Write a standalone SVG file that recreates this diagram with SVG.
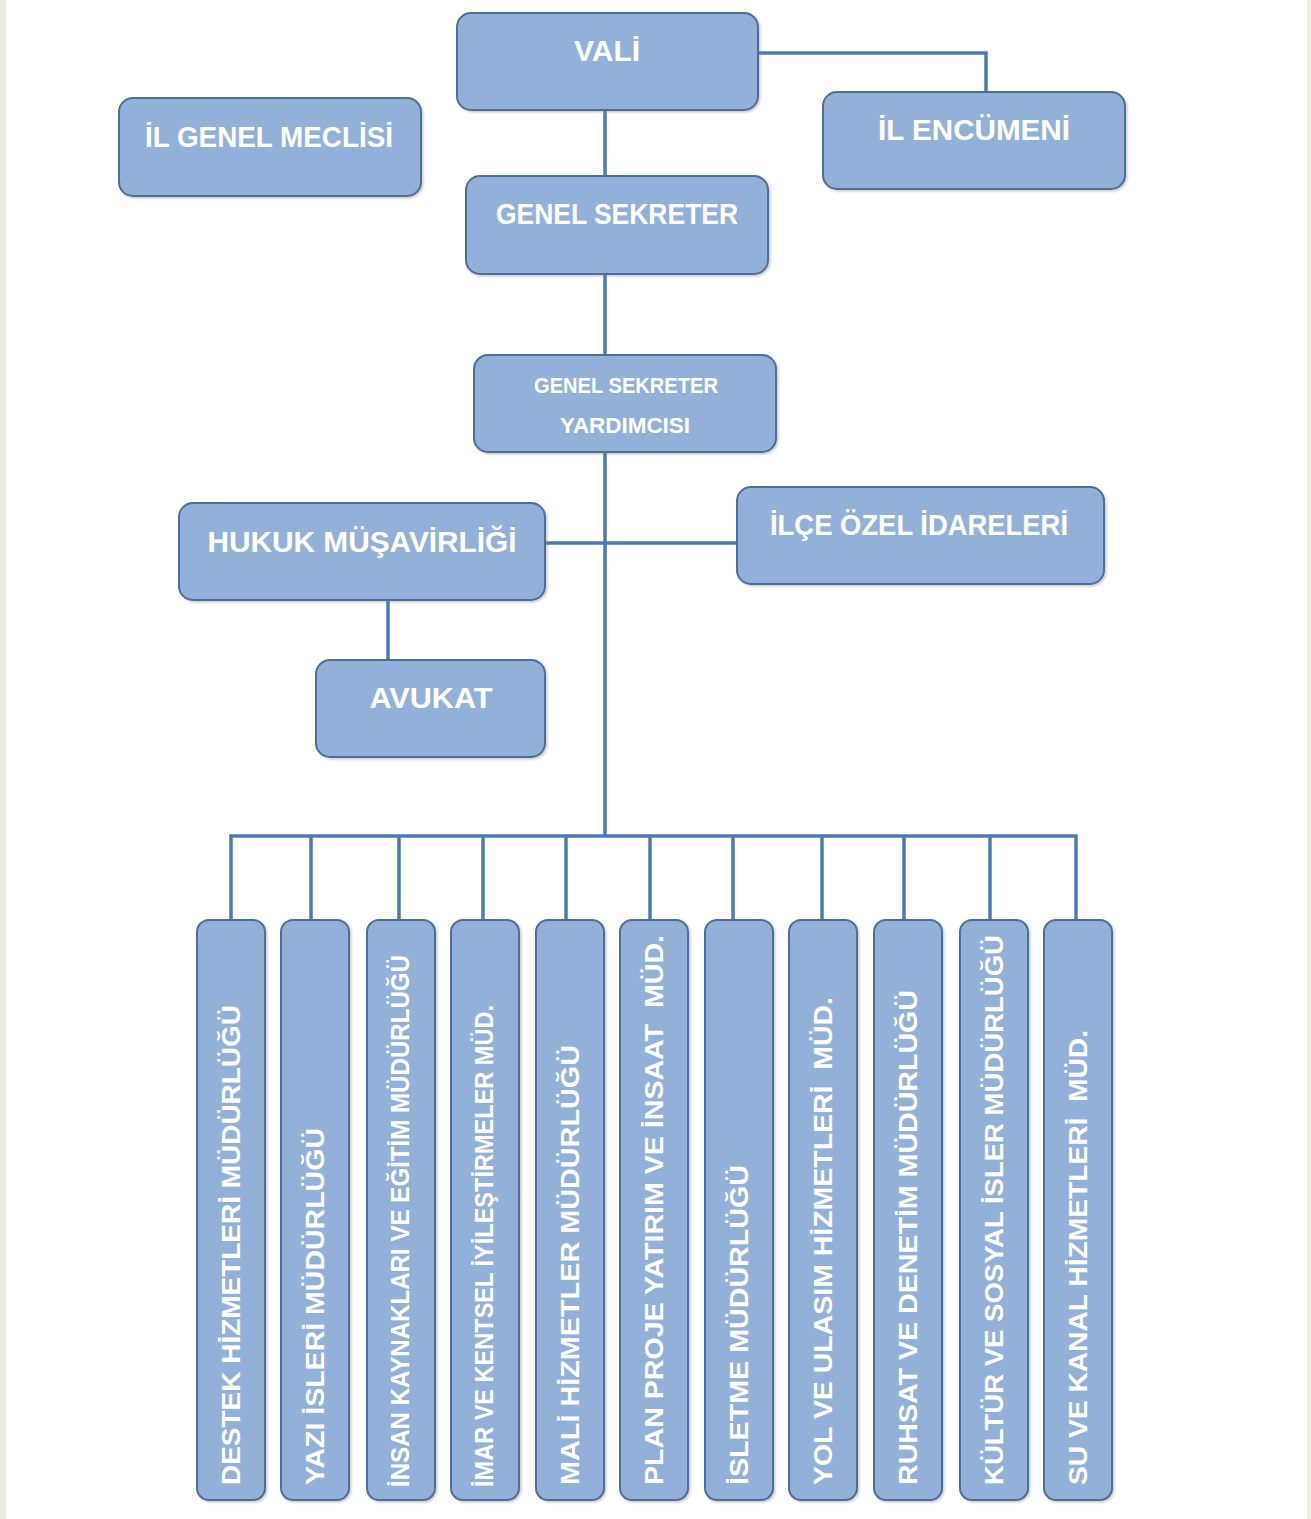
<svg xmlns="http://www.w3.org/2000/svg" width="1311" height="1519" viewBox="0 0 1311 1519">
<style>
.box{fill:#93B1D8;stroke:#4E6E98;stroke-width:2}
.t{fill:#ffffff;font-family:"Liberation Sans",Arial,sans-serif;font-weight:bold;text-anchor:middle}
.v{fill:#ffffff;font-family:"Liberation Sans",Arial,sans-serif;font-weight:bold;font-size:25px}
.ln{stroke:#4B79B4;stroke-width:3.5;fill:none}
</style>
<defs>
<filter id="sh" x="-10%" y="-10%" width="130%" height="130%">
<feDropShadow dx="1.5" dy="1.5" stdDeviation="1.2" flood-color="#8a8a8a" flood-opacity="0.45"/>
</filter>
</defs>
<rect x="0" y="0" width="1311" height="1519" fill="#ffffff"/>
<rect x="0" y="0" width="6" height="1519" fill="#EDEADF"/>
<rect x="1307" y="0" width="4" height="1519" fill="#EDEADF"/>

<g id="connectors" class="ln">
<path d="M758 53 H986 V92"/>
<path d="M605 110 V176"/>
<path d="M605 274 V355"/>
<path d="M605 452 V836"/>
<path d="M545 543 H737"/>
<path d="M388 600 V660"/>
<path d="M231 920 V836 H1076 V920"/>
<path d="M311 836 V920"/>
<path d="M399 836 V920"/>
<path d="M483 836 V920"/>
<path d="M566 836 V920"/>
<path d="M650 836 V920"/>
<path d="M733 836 V920"/>
<path d="M822 836 V920"/>
<path d="M904 836 V920"/>
<path d="M990 836 V920"/>
</g>

<g id="vali"><rect class="box" filter="url(#sh)" x="457" y="13" width="301" height="97" rx="14"/>
<text class="t" x="607" y="61" font-size="29" textLength="66" lengthAdjust="spacingAndGlyphs">VALİ</text></g>
<g id="il-encumeni"><rect class="box" filter="url(#sh)" x="823" y="92" width="302" height="97" rx="14"/>
<text class="t" x="974" y="140" font-size="29" textLength="192" lengthAdjust="spacingAndGlyphs">İL ENCÜMENİ</text></g>
<g id="il-genel-meclisi"><rect class="box" filter="url(#sh)" x="119" y="98" width="302" height="98" rx="14"/>
<text class="t" x="269" y="147" font-size="29" textLength="248" lengthAdjust="spacingAndGlyphs">İL GENEL MECLİSİ</text></g>
<g id="genel-sekreter"><rect class="box" filter="url(#sh)" x="466" y="176" width="302" height="98" rx="14"/>
<text class="t" x="617" y="224" font-size="29" textLength="242" lengthAdjust="spacingAndGlyphs">GENEL SEKRETER</text></g>
<g id="genel-sekreter-yardimcisi"><rect class="box" filter="url(#sh)" x="474" y="355" width="302" height="97" rx="14"/>
<text class="t" x="626" y="393" font-size="22" textLength="184" lengthAdjust="spacingAndGlyphs">GENEL SEKRETER</text>
<text class="t" x="625" y="433" font-size="22" textLength="130" lengthAdjust="spacingAndGlyphs">YARDIMCISI</text></g>
<g id="hukuk"><rect class="box" filter="url(#sh)" x="179" y="503" width="366" height="97" rx="14"/>
<text class="t" x="362" y="552" font-size="29" textLength="309" lengthAdjust="spacingAndGlyphs">HUKUK MÜŞAVİRLİĞİ</text></g>
<g id="ilce"><rect class="box" filter="url(#sh)" x="737" y="487" width="367" height="97" rx="14"/>
<text class="t" x="919" y="535" font-size="29" textLength="298" lengthAdjust="spacingAndGlyphs">İLÇE ÖZEL İDARELERİ</text></g>
<g id="avukat"><rect class="box" filter="url(#sh)" x="316" y="660" width="229" height="97" rx="14"/>
<text class="t" x="431" y="708" font-size="29" textLength="123" lengthAdjust="spacingAndGlyphs">AVUKAT</text></g>

<g id="m1"><rect class="box" filter="url(#sh)" x="197" y="920" width="68" height="580" rx="12"/>
<text class="v" transform="translate(231,1485) rotate(-90)" y="9" textLength="480" lengthAdjust="spacingAndGlyphs">DESTEK HİZMETLERİ MÜDÜRLÜĞÜ</text></g>
<g id="m2"><rect class="box" filter="url(#sh)" x="281" y="920" width="68" height="580" rx="12"/>
<text class="v" transform="translate(315,1485) rotate(-90)" y="9" textLength="357" lengthAdjust="spacingAndGlyphs">YAZI İSLERİ MÜDÜRLÜĞÜ</text></g>
<g id="m3"><rect class="box" filter="url(#sh)" x="367" y="920" width="68" height="580" rx="12"/>
<text class="v" transform="translate(401,1487) rotate(-90)" y="8" font-size="22" textLength="532" lengthAdjust="spacingAndGlyphs">İNSAN KAYNAKLARI VE EĞİTİM MÜDÜRLÜĞÜ</text></g>
<g id="m4"><rect class="box" filter="url(#sh)" x="451" y="920" width="68" height="580" rx="12"/>
<text class="v" transform="translate(485,1487) rotate(-90)" y="8" font-size="22" textLength="482" lengthAdjust="spacingAndGlyphs">İMAR VE KENTSEL İYİLEŞTİRMELER MÜD.</text></g>
<g id="m5"><rect class="box" filter="url(#sh)" x="536" y="920" width="68" height="580" rx="12"/>
<text class="v" transform="translate(570,1485) rotate(-90)" y="9" textLength="440" lengthAdjust="spacingAndGlyphs">MALİ HİZMETLER MÜDÜRLÜĞÜ</text></g>
<g id="m6"><rect class="box" filter="url(#sh)" x="620" y="920" width="68" height="580" rx="12"/>
<text class="v" transform="translate(654,1485) rotate(-90)" y="9" textLength="550" lengthAdjust="spacingAndGlyphs" xml:space="preserve">PLAN PROJE YATIRIM VE İNSAAT  MÜD.</text></g>
<g id="m7"><rect class="box" filter="url(#sh)" x="705" y="920" width="68" height="580" rx="12"/>
<text class="v" transform="translate(739,1485) rotate(-90)" y="9" textLength="320" lengthAdjust="spacingAndGlyphs">İSLETME MÜDÜRLÜĞÜ</text></g>
<g id="m8"><rect class="box" filter="url(#sh)" x="789" y="920" width="68" height="580" rx="12"/>
<text class="v" transform="translate(823,1485) rotate(-90)" y="9" textLength="488" lengthAdjust="spacingAndGlyphs" xml:space="preserve">YOL VE ULASIM HİZMETLERİ  MÜD.</text></g>
<g id="m9"><rect class="box" filter="url(#sh)" x="874" y="920" width="68" height="580" rx="12"/>
<text class="v" transform="translate(908,1485) rotate(-90)" y="9" textLength="495" lengthAdjust="spacingAndGlyphs">RUHSAT VE DENETİM MÜDÜRLÜĞÜ</text></g>
<g id="m10"><rect class="box" filter="url(#sh)" x="960" y="920" width="68" height="580" rx="12"/>
<text class="v" transform="translate(994,1485) rotate(-90)" y="9" textLength="550" lengthAdjust="spacingAndGlyphs">KÜLTÜR VE SOSYAL İSLER MÜDÜRLÜĞÜ</text></g>
<g id="m11"><rect class="box" filter="url(#sh)" x="1044" y="920" width="68" height="580" rx="12"/>
<text class="v" transform="translate(1078,1485) rotate(-90)" y="9" textLength="455" lengthAdjust="spacingAndGlyphs" xml:space="preserve">SU VE KANAL HİZMETLERİ  MÜD.</text></g>
</svg>
